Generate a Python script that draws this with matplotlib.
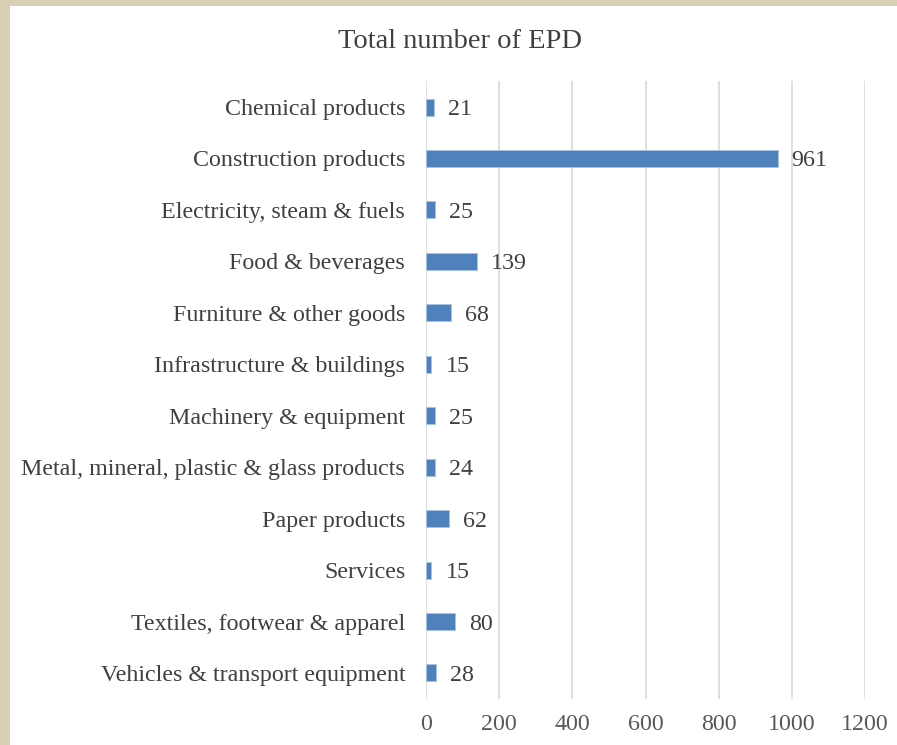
import matplotlib

matplotlib.use("Agg")
import matplotlib.pyplot as plt
from matplotlib.patches import Rectangle

categories = [
    "Chemical products",
    "Construction products",
    "Electricity, steam & fuels",
    "Food & beverages",
    "Furniture & other goods",
    "Infrastructure & buildings",
    "Machinery & equipment",
    "Metal, mineral, plastic & glass products",
    "Paper products",
    "Services",
    "Textiles, footwear & apparel",
    "Vehicles & transport equipment",
]
counts = [21, 961, 25, 139, 68, 15, 25, 24, 62, 15, 80, 28]
x_ticks = [0, 200, 400, 600, 800, 1000, 1200]

plt.rcParams["font.family"] = ["Liberation Serif", "DejaVu Serif"]

fig = plt.figure(figsize=(8.97, 7.45), dpi=100)
fig.patch.set_facecolor("#d9cfb4")
# white chart area inside the textured frame
fig.add_artist(Rectangle((10 / 897, 0), 1, 1 - 6 / 745, transform=fig.transFigure,
                         facecolor="white", edgecolor="none", zorder=0))

ax = fig.add_axes([426 / 897, 1 - 698.7 / 745, 439 / 897, 617.4 / 745])
ax.set_facecolor("none")

pos = list(range(len(categories)))
ax.barh(pos, counts, height=0.33, color="#4f81bd", edgecolor="#a9c3e3", linewidth=0.6, zorder=3)
for p, v in zip(pos, counts):
    ax.annotate(str(v), (v, p), xytext=(10, 0), textcoords="offset points",
                ha="left", va="center_baseline", fontsize=17.3, color="#404040")

ax.set_ylim(len(categories) - 0.5, -0.5)
ax.set_xlim(0, 1200)
ax.set_xticks(x_ticks)
ax.set_xticklabels([str(t) for t in x_ticks])
ax.set_yticks(pos)
ax.set_yticklabels(categories, va="center_baseline")
ax.tick_params(axis="x", length=0, pad=11, labelsize=17.3, labelcolor="#595959")
ax.tick_params(axis="y", length=0, pad=15, labelsize=17.3, labelcolor="#404040")
ax.grid(axis="x", color="#d9d9d9", linewidth=1.2, zorder=0)
for s in ax.spines.values():
    s.set_visible(False)

fig.text(460 / 897, 1 - 41 / 745, "Total number of EPD", ha="center", va="center",
         fontsize=20.5, color="#404040")

fig.savefig("out.png", dpi=100)
